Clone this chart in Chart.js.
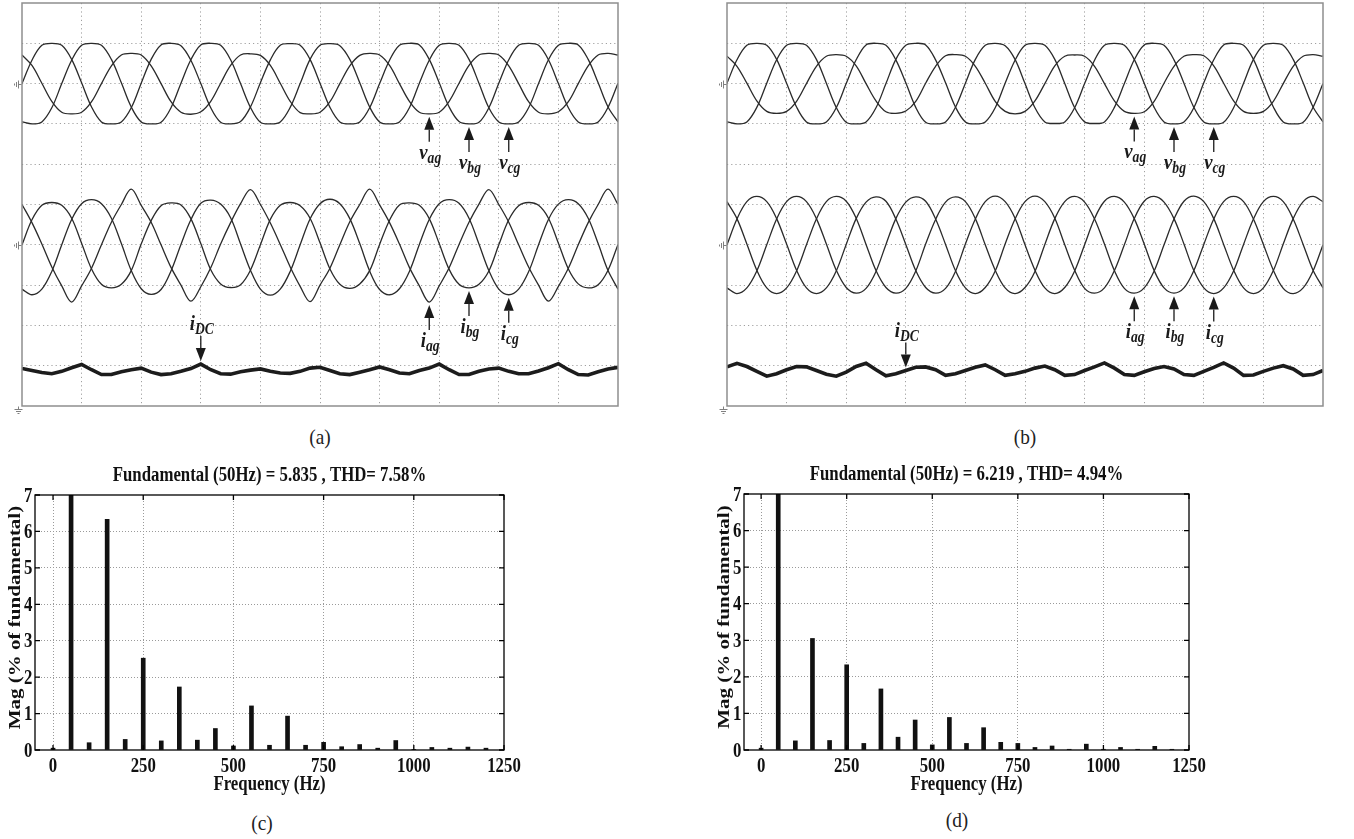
<!DOCTYPE html>
<html>
<head>
<meta charset="utf-8">
<script src="https://cdn.jsdelivr.net/npm/chart.js@4.4.1/dist/chart.umd.min.js"></script>
<style>
  body { margin: 0; background: #fff; }
  #page { position: relative; width: 1354px; height: 839px; overflow: hidden; background: #fff; }
  canvas { position: absolute; }
  .cap { position: absolute; font: 21px "Liberation Serif", serif; color: #222; line-height: 22px;
         transform: translateX(-50%) scaleX(0.92); white-space: nowrap; }
</style>
</head>
<body>
<div id="page">
  <canvas id="scopeA" width="640" height="420" style="left:0;top:0"></canvas>
  <canvas id="scopeB" width="640" height="420" style="left:705px;top:0"></canvas>
  <canvas id="fftC" width="640" height="350" style="left:0;top:450px"></canvas>
  <canvas id="fftD" width="654" height="350" style="left:700px;top:450px"></canvas>
  <div class="cap" style="left:320px;top:426px">(a)</div>
  <div class="cap" style="left:1025px;top:426px">(b)</div>
  <div class="cap" style="left:262px;top:812px">(c)</div>
  <div class="cap" style="left:957px;top:809px">(d)</div>
</div>
<script>
// scope sample times (ms), 10 ms/div
const timeMs = [
  0, 1.67, 3.33, 5, 6.67, 8.33, 10, 11.67, 13.33, 15, 16.67, 18.33,
  20, 21.67, 23.33, 25, 26.67, 28.33, 30, 31.67, 33.33, 35, 36.67, 38.33,
  40, 41.67, 43.33, 45, 46.67, 48.33, 50, 51.67, 53.33, 55, 56.67, 58.33,
  60, 61.67, 63.33, 65, 66.67, 68.33, 70, 71.67, 73.33, 75, 76.67, 78.33,
  80, 81.67, 83.33, 85, 86.67, 88.33, 90, 91.67, 93.33, 95, 96.67, 98.33, 100
];

// traces of scope (a), in divisions from each channel's ground
const vagA = [
  0.71, 0.45, 0.01, -0.44, -0.71, -0.75, -0.71, -0.45, 0.0, 0.44, 0.71, 0.75,
  0.71, 0.44, 0.0, -0.45, -0.71, -0.76, -0.7, -0.44, 0.01, 0.45, 0.71, 0.74,
  0.7, 0.45, 0.01, -0.44, -0.72, -0.75, -0.71, -0.45, 0.0, 0.44, 0.7, 0.75,
  0.71, 0.45, 0.0, -0.44, -0.71, -0.75, -0.71, -0.44, 0.01, 0.45, 0.71, 0.75,
  0.71, 0.44, 0.0, -0.45, -0.71, -0.75, -0.7, -0.45, 0.0, 0.44, 0.71, 0.75, 0.71
];
const vbgA = [
  0.0, 0.58, 0.95, 1.0, 0.95, 0.6, 0.02, -0.58, -0.95, -1.0, -0.95, -0.6,
  0.01, 0.6, 0.96, 1.0, 0.94, 0.58, 0.0, -0.6, -0.96, -1.0, -0.94, -0.58,
  0.02, 0.59, 0.95, 0.99, 0.95, 0.6, 0.01, -0.59, -0.95, -1.0, -0.95, -0.6,
  0.0, 0.58, 0.95, 1.0, 0.96, 0.6, 0.02, -0.58, -0.94, -1.0, -0.96, -0.6,
  0.01, 0.59, 0.95, 1.0, 0.95, 0.59, 0.0, -0.6, -0.95, -1.0, -0.95, -0.59, 0.01
];
const vcgA = [
  -0.95, -1.0, -0.95, -0.6, 0.0, 0.58, 0.95, 1.0, 0.95, 0.6, 0.02, -0.58,
  -0.95, -1.0, -0.96, -0.6, 0.01, 0.59, 0.96, 1.0, 0.95, 0.59, 0.0, -0.59,
  -0.96, -1.0, -0.95, -0.59, 0.0, 0.6, 0.95, 0.99, 0.94, 0.6, 0.02, -0.58,
  -0.95, -1.0, -0.95, -0.6, 0.01, 0.58, 0.95, 1.0, 0.95, 0.6, 0.01, -0.6,
  -0.95, -1.0, -0.95, -0.6, 0.0, 0.59, 0.95, 1.0, 0.96, 0.6, 0.02, -0.58, -0.95
];
const iagA = [
  1.0, 0.55, 0.02, -0.55, -1.02, -1.42, -1.02, -0.58, 0.0, 0.56, 1.0, 1.38,
  0.98, 0.56, 0.0, -0.56, -1.0, -1.4, -1.04, -0.57, 0.02, 0.55, 1.02, 1.37,
  1.0, 0.54, 0.01, -0.55, -1.03, -1.41, -1.0, -0.58, 0.0, 0.57, 1.0, 1.38,
  0.99, 0.55, 0.02, -0.56, -1.02, -1.42, -1.02, -0.57, 0.01, 0.56, 1.01, 1.37,
  1.0, 0.56, 0.0, -0.55, -1.0, -1.4, -1.03, -0.58, 0.0, 0.55, 1.0, 1.38, 1.0
];
const ibgA = [
  0.0, 0.62, 0.98, 1.05, 0.98, 0.66, 0.04, -0.6, -0.98, -1.07, -0.98, -0.64,
  0.02, 0.6, 0.97, 1.04, 0.99, 0.65, 0.03, -0.62, -0.97, -1.06, -0.99, -0.63,
  0.0, 0.63, 0.98, 1.05, 0.97, 0.66, 0.05, -0.6, -0.98, -1.08, -0.97, -0.64,
  0.01, 0.61, 0.99, 1.04, 0.98, 0.65, 0.03, -0.61, -0.98, -1.07, -0.98, -0.65,
  0.0, 0.62, 0.97, 1.05, 0.98, 0.66, 0.04, -0.6, -0.97, -1.07, -0.99, -0.63, 0.01
];
const icgA = [
  -1.1, -1.24, -1.1, -0.66, 0.0, 0.63, 1.02, 1.12, 1.02, 0.66, 0.03, -0.64,
  -1.09, -1.23, -1.11, -0.65, 0.01, 0.62, 1.03, 1.11, 1.01, 0.67, 0.02, -0.63,
  -1.1, -1.25, -1.1, -0.66, 0.0, 0.64, 1.02, 1.13, 1.02, 0.65, 0.03, -0.65,
  -1.11, -1.24, -1.09, -0.66, 0.01, 0.63, 1.02, 1.12, 1.03, 0.66, 0.02, -0.64,
  -1.1, -1.24, -1.1, -0.67, 0.0, 0.63, 1.01, 1.12, 1.02, 0.66, 0.03, -0.64, -1.1
];
const idcA = [
  0.93, 0.88, 0.83, 0.8, 0.86, 0.95, 1.03, 0.9, 0.78, 0.78, 0.85, 0.9,
  0.94, 0.84, 0.78, 0.8, 0.86, 0.93, 1.04, 0.9, 0.8, 0.79, 0.85, 0.89,
  0.92, 0.86, 0.82, 0.81, 0.86, 0.94, 0.96, 0.88, 0.8, 0.78, 0.84, 0.9,
  0.97, 0.9, 0.82, 0.8, 0.88, 0.94, 1.04, 0.9, 0.78, 0.78, 0.86, 0.92,
  0.94, 0.86, 0.8, 0.8, 0.87, 0.95, 1.05, 0.9, 0.78, 0.77, 0.85, 0.92, 0.96
];

// traces of scope (b)
const vagB = [
  0.68, 0.43, 0.01, -0.43, -0.69, -0.74, -0.69, -0.44, 0.0, 0.43, 0.68, 0.72,
  0.68, 0.44, 0.0, -0.43, -0.7, -0.74, -0.68, -0.44, 0.01, 0.43, 0.69, 0.72,
  0.68, 0.43, 0.01, -0.44, -0.69, -0.75, -0.69, -0.43, 0.0, 0.44, 0.68, 0.71,
  0.68, 0.43, 0.0, -0.43, -0.69, -0.74, -0.7, -0.44, 0.01, 0.43, 0.68, 0.72,
  0.69, 0.44, 0.01, -0.43, -0.69, -0.74, -0.69, -0.44, 0.0, 0.43, 0.68, 0.72, 0.68
];
const vbgB = [
  0.01, 0.59, 0.95, 1.0, 0.95, 0.6, 0.01, -0.58, -0.95, -1.0, -0.95, -0.6,
  0.0, 0.59, 0.96, 1.0, 0.95, 0.59, 0.02, -0.59, -0.96, -1.0, -0.95, -0.59,
  0.01, 0.6, 0.95, 1.0, 0.94, 0.6, 0.0, -0.6, -0.95, -0.99, -0.95, -0.6,
  0.0, 0.58, 0.95, 1.0, 0.95, 0.6, 0.01, -0.59, -0.95, -1.0, -0.95, -0.6,
  0.02, 0.59, 0.96, 1.0, 0.95, 0.6, 0.0, -0.58, -0.95, -1.0, -0.96, -0.59, 0.0
];
const vcgB = [
  -0.95, -1.0, -0.95, -0.59, 0.01, 0.59, 0.95, 1.0, 0.95, 0.6, 0.01, -0.59,
  -0.96, -1.0, -0.95, -0.6, 0.0, 0.6, 0.95, 1.0, 0.96, 0.59, 0.02, -0.58,
  -0.95, -1.0, -0.95, -0.6, 0.01, 0.58, 0.95, 1.0, 0.95, 0.6, 0.0, -0.6,
  -0.95, -0.99, -0.95, -0.59, 0.0, 0.59, 0.96, 1.0, 0.95, 0.59, 0.01, -0.59,
  -0.95, -1.0, -0.96, -0.6, 0.01, 0.6, 0.95, 1.0, 0.95, 0.6, 0.02, -0.58, -0.95
];
const iagB = [
  1.07, 0.65, 0.02, -0.63, -1.07, -1.21, -1.07, -0.65, 0.0, 0.64, 1.07, 1.2,
  1.08, 0.66, 0.01, -0.64, -1.06, -1.2, -1.08, -0.65, 0.02, 0.63, 1.06, 1.19,
  1.07, 0.65, 0.0, -0.63, -1.07, -1.21, -1.06, -0.66, 0.01, 0.65, 1.07, 1.2,
  1.06, 0.64, 0.02, -0.64, -1.08, -1.2, -1.07, -0.65, 0.0, 0.64, 1.08, 1.21,
  1.07, 0.65, 0.01, -0.63, -1.07, -1.21, -1.07, -0.64, 0.02, 0.65, 1.07, 1.2, 1.07
];
const ibgB = [
  0.0, 0.64, 1.07, 1.2, 1.07, 0.65, 0.02, -0.63, -1.07, -1.21, -1.07, -0.65,
  0.01, 0.65, 1.06, 1.19, 1.08, 0.64, 0.01, -0.64, -1.06, -1.2, -1.08, -0.66,
  0.02, 0.64, 1.07, 1.21, 1.07, 0.66, 0.0, -0.63, -1.07, -1.21, -1.06, -0.65,
  0.0, 0.65, 1.08, 1.2, 1.06, 0.65, 0.02, -0.64, -1.07, -1.2, -1.07, -0.64,
  0.01, 0.64, 1.07, 1.2, 1.07, 0.64, 0.01, -0.63, -1.08, -1.21, -1.07, -0.65, 0.0
];
const icgB = [
  -1.07, -1.21, -1.07, -0.65, 0.0, 0.64, 1.07, 1.2, 1.07, 0.65, 0.02, -0.63,
  -1.06, -1.2, -1.08, -0.66, 0.01, 0.65, 1.06, 1.19, 1.08, 0.64, 0.01, -0.64,
  -1.07, -1.21, -1.06, -0.65, 0.02, 0.64, 1.07, 1.21, 1.07, 0.66, 0.0, -0.63,
  -1.08, -1.2, -1.07, -0.64, 0.0, 0.65, 1.08, 1.2, 1.06, 0.65, 0.02, -0.64,
  -1.07, -1.21, -1.07, -0.65, 0.01, 0.64, 1.07, 1.2, 1.07, 0.64, 0.01, -0.63, -1.07
];
const idcB = [
  0.97, 1.06, 0.98, 0.86, 0.74, 0.8, 0.9, 0.98, 0.97, 0.88, 0.79, 0.74,
  0.84, 0.98, 1.06, 0.9, 0.75, 0.8, 0.88, 0.96, 0.97, 0.9, 0.76, 0.8,
  0.88, 0.96, 1.02, 0.9, 0.76, 0.8, 0.86, 0.94, 0.99, 0.9, 0.76, 0.78,
  0.88, 0.97, 1.07, 0.94, 0.78, 0.76, 0.85, 0.93, 0.98, 0.92, 0.78, 0.76,
  0.86, 0.96, 1.07, 0.94, 0.76, 0.77, 0.86, 0.94, 1.0, 0.92, 0.76, 0.78, 0.88
];

// FFT of the grid current
const harmonicHz = [0, 50, 100, 150, 200, 250, 300, 350, 400, 450, 500, 550, 600,
                    650, 700, 750, 800, 850, 900, 950, 1000, 1050, 1100, 1150, 1200];
const magC = [0.05, 100, 0.2, 6.33, 0.29, 2.52, 0.25, 1.73, 0.27, 0.59, 0.11, 1.21, 0.13,
              0.93, 0.13, 0.21, 0.09, 0.15, 0.05, 0.26, 0.01, 0.07, 0.05, 0.08, 0.05];
const magD = [0.05, 100, 0.25, 3.05, 0.26, 2.33, 0.18, 1.67, 0.35, 0.82, 0.14, 0.89, 0.18,
              0.61, 0.21, 0.18, 0.07, 0.11, 0.02, 0.16, 0.02, 0.07, 0.02, 0.1, 0.02];
const hzTicks = [0, 250, 500, 750, 1000, 1250];
const magTicks = [0, 1, 2, 3, 4, 5, 6, 7];
const titleC = 'Fundamental (50Hz) = 5.835 , THD= 7.58%';
const titleD = 'Fundamental (50Hz) = 6.219 , THD= 4.94%';

// channel ground positions on the 10-division screen
const groundV = 8, groundI = 4, groundDC = 0;

const serif = '"Liberation Serif", "Times New Roman", serif';
const squeeze = 0.85;

function drawSubLabel(ctx, x, baseY, main, sub) {
  const mainFont = `italic bold 22px ${serif}`;
  const subFont = `italic bold 16px ${serif}`;
  ctx.font = mainFont;
  const w1 = ctx.measureText(main).width;
  ctx.font = subFont;
  const w2 = ctx.measureText(sub).width;
  ctx.save();
  ctx.translate(x - (w1 + w2) * squeeze / 2, baseY);
  ctx.scale(squeeze, 1);
  ctx.textAlign = 'left';
  ctx.textBaseline = 'alphabetic';
  ctx.font = mainFont;
  ctx.fillText(main, 0, 0);
  ctx.font = subFont;
  ctx.fillText(sub, w1, 4);
  ctx.restore();
}

// frame, ground symbols and arrow callouts of the scope screens
const scopeMarks = {
  id: 'scopeMarks',
  afterDatasetsDraw(chart, args, opts) {
    const { ctx, chartArea: a, scales: { y } } = chart;
    ctx.save();
    ctx.strokeStyle = '#8e8e8e';
    ctx.lineWidth = 1.5;
    ctx.strokeRect(a.left, a.top, a.right - a.left, a.bottom - a.top);

    ctx.strokeStyle = '#808080';
    ctx.lineWidth = 1;
    ctx.beginPath();
    opts.grounds.forEach(g => {
      const gy = Math.round(y.getPixelForValue(g)) + 0.5;
      if (g === 0) {
        const gx = a.left - 3.5;
        ctx.moveTo(gx, gy); ctx.lineTo(gx, gy + 3);
        ctx.moveTo(gx - 4, gy + 3); ctx.lineTo(gx + 4, gy + 3);
        ctx.moveTo(gx - 2.5, gy + 5); ctx.lineTo(gx + 2.5, gy + 5);
        ctx.moveTo(gx - 1, gy + 7); ctx.lineTo(gx + 1, gy + 7);
      } else {
        const gx = a.left - 0.5;
        ctx.moveTo(gx, gy); ctx.lineTo(gx - 3, gy);
        ctx.moveTo(gx - 3, gy - 4); ctx.lineTo(gx - 3, gy + 4);
        ctx.moveTo(gx - 5, gy - 2.5); ctx.lineTo(gx - 5, gy + 2.5);
        ctx.moveTo(gx - 7, gy - 1); ctx.lineTo(gx - 7, gy + 1);
      }
    });
    ctx.stroke();

    ctx.fillStyle = '#1a1a1a';
    ctx.strokeStyle = '#1a1a1a';
    ctx.lineWidth = 1.3;
    opts.notes.forEach(n => {
      const pt = chart.getDatasetMeta(n.ds).data[n.idx];
      const x = pt.x;
      const up = n.dir === 'up';
      const tip = up ? pt.y + 3 : pt.y - 3;
      const s = up ? 1 : -1;
      ctx.beginPath();
      ctx.moveTo(x, tip);
      ctx.lineTo(x - 5, tip + s * 13);
      ctx.lineTo(x + 5, tip + s * 13);
      ctx.closePath();
      ctx.fill();
      ctx.beginPath();
      ctx.moveTo(x, tip + s * 13);
      ctx.lineTo(x, tip + s * 25);
      ctx.stroke();
      drawSubLabel(ctx, x + 1, up ? tip + 42 : tip - 31, n.main, n.sub);
    });
    ctx.restore();
  }
};

function scopeChart(id, traces, notes) {
  const edge = (lo, hi) => c => (c.tick.value <= lo || c.tick.value >= hi) ? 'rgba(0,0,0,0)' : '#a0a0a0';
  return new Chart(document.getElementById(id), {
    type: 'line',
    data: {
      datasets: traces.map(tr => ({
        data: timeMs.map((t, i) => ({ x: t, y: tr.values[i] + tr.ground })),
        borderColor: tr.color,
        borderWidth: tr.width,
        tension: tr.tension,
        pointRadius: 0,
        fill: false
      }))
    },
    options: {
      responsive: false,
      animation: false,
      events: [],
      layout: { padding: { left: 22, top: 3, right: 22, bottom: 14 } },
      plugins: {
        legend: { display: false },
        tooltip: { enabled: false },
        scopeMarks: { notes, grounds: [groundV, groundI, groundDC] }
      },
      scales: {
        x: {
          type: 'linear', min: 0, max: 100,
          ticks: { display: false, stepSize: 10 },
          grid: { color: edge(0, 100), drawTicks: false, lineWidth: 1 },
          border: { display: false, dash: [1.2, 3] }
        },
        y: {
          type: 'linear', min: 0, max: 10,
          ticks: { display: false, stepSize: 1 },
          grid: { color: edge(0, 10), drawTicks: false, lineWidth: 1 },
          border: { display: false, dash: [1.2, 3] }
        }
      }
    },
    plugins: [scopeMarks]
  });
}

function traceSet(va, vb, vc, ia, ib, ic, dc) {
  const ac = (values, ground) => ({ values, ground, color: '#2a2a2a', width: 1.3, tension: 0.35 });
  return [
    ac(va, groundV), ac(vb, groundV), ac(vc, groundV),
    ac(ia, groundI), ac(ib, groundI), ac(ic, groundI),
    { values: dc, ground: groundDC, color: '#1c1c1c', width: 3.6, tension: 0 }
  ];
}

const callouts = [
  { ds: 0, idx: 41, main: 'v', sub: 'ag', dir: 'up' },
  { ds: 1, idx: 45, main: 'v', sub: 'bg', dir: 'up' },
  { ds: 2, idx: 49, main: 'v', sub: 'cg', dir: 'up' },
  { ds: 3, idx: 41, main: 'i', sub: 'ag', dir: 'up' },
  { ds: 4, idx: 45, main: 'i', sub: 'bg', dir: 'up' },
  { ds: 5, idx: 49, main: 'i', sub: 'cg', dir: 'up' },
  { ds: 6, idx: 18, main: 'i', sub: 'DC', dir: 'down' }
];

scopeChart('scopeA', traceSet(vagA, vbgA, vcgA, iagA, ibgA, icgA, idcA), callouts);
scopeChart('scopeB', traceSet(vagB, vbgB, vcgB, iagB, ibgB, icgB, idcB), callouts);

// MATLAB-style axes box, inward ticks and condensed bold labels
const matlabAxes = {
  id: 'matlabAxes',
  afterDraw(chart, args, opts) {
    const { ctx, chartArea: a, scales: { x, y } } = chart;
    ctx.save();
    ctx.strokeStyle = '#000';
    ctx.lineWidth = 1.3;
    ctx.strokeRect(a.left, a.top, a.right - a.left, a.bottom - a.top);
    ctx.beginPath();
    hzTicks.forEach(v => {
      const px = x.getPixelForValue(v);
      ctx.moveTo(px, a.bottom); ctx.lineTo(px, a.bottom - 5);
      ctx.moveTo(px, a.top); ctx.lineTo(px, a.top + 5);
    });
    magTicks.forEach(v => {
      const py = y.getPixelForValue(v);
      ctx.moveTo(a.left, py); ctx.lineTo(a.left + 5, py);
      ctx.moveTo(a.right, py); ctx.lineTo(a.right - 5, py);
    });
    ctx.stroke();

    ctx.fillStyle = '#111';
    const text = (str, px, py, align) => {
      ctx.save();
      ctx.translate(px, py);
      ctx.scale(0.84, 1);
      ctx.font = `bold 20px ${serif}`;
      ctx.textAlign = align;
      ctx.textBaseline = 'alphabetic';
      ctx.fillText(str, 0, 0);
      ctx.restore();
    };
    const cx = (a.left + a.right) / 2;
    hzTicks.forEach(v => text(String(v), x.getPixelForValue(v), a.bottom + 22, 'center'));
    magTicks.forEach(v => text(String(v), a.left - 2.5, y.getPixelForValue(v) + 6.5, 'right'));
    text('Frequency (Hz)', cx, a.bottom + 40, 'center');
    text(opts.title, cx, a.top - 14, 'center');

    ctx.save();
    ctx.translate(a.left - 20, (a.top + a.bottom) / 2 - 5);
    ctx.rotate(-Math.PI / 2);
    ctx.scale(1, 0.84);
    ctx.font = `bold 21px ${serif}`;
    ctx.textAlign = 'center';
    ctx.textBaseline = 'middle';
    ctx.fillText('Mag (% of fundamental)', 0, 0);
    ctx.restore();
    ctx.restore();
  }
};

function fftChart(id, mags, title, padding) {
  const edge = (lo, hi) => c => (c.tick.value <= lo || c.tick.value >= hi) ? 'rgba(0,0,0,0)' : '#9a9a9a';
  return new Chart(document.getElementById(id), {
    type: 'bar',
    data: {
      datasets: [{
        data: harmonicHz.map((f, i) => ({ x: f, y: mags[i] })),
        backgroundColor: '#111',
        borderWidth: 0,
        barThickness: 4
      }]
    },
    options: {
      responsive: false,
      animation: false,
      events: [],
      layout: { padding },
      plugins: {
        legend: { display: false },
        tooltip: { enabled: false },
        matlabAxes: { title }
      },
      scales: {
        x: {
          type: 'linear', min: -50, max: 1250, offset: false,
          afterBuildTicks: s => { s.ticks = hzTicks.map(v => ({ value: v })); },
          ticks: { display: false },
          grid: { offset: false, color: edge(-50, 1250), drawTicks: false },
          border: { display: false, dash: [1, 2] }
        },
        y: {
          type: 'linear', min: 0, max: 7,
          afterBuildTicks: s => { s.ticks = magTicks.map(v => ({ value: v })); },
          ticks: { display: false },
          grid: { color: edge(0, 7), drawTicks: false },
          border: { display: false, dash: [1, 2] }
        }
      }
    },
    plugins: [matlabAxes]
  });
}

fftChart('fftC', magC, titleC, { left: 35, top: 45, right: 136, bottom: 50 });
fftChart('fftD', magD, titleD, { left: 44, top: 44, right: 165, bottom: 50 });
</script>
</body>
</html>
